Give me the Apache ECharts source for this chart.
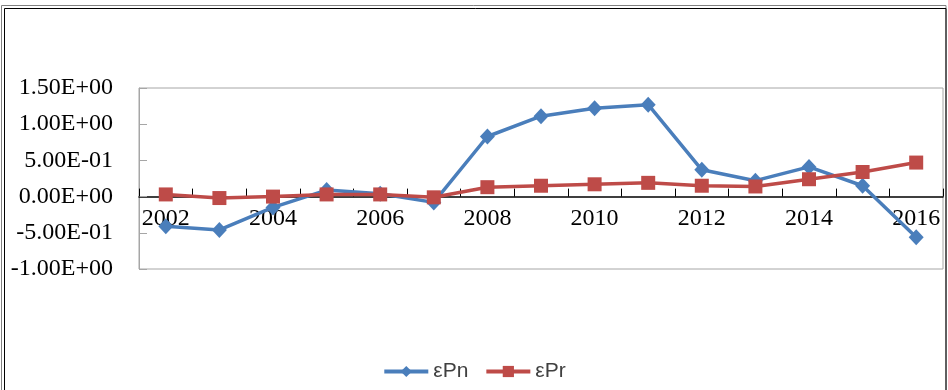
<!DOCTYPE html>
<html>
<head>
<meta charset="utf-8">
<script src="https://cdn.jsdelivr.net/npm/echarts@6/dist/echarts.min.js"></script>
<style>
html,body{margin:0;padding:0;background:#fff;}
#c{width:948px;height:390px;}
</style>
</head>
<body>
<div id="c"></div>
<script>
var years = ['2002','2003','2004','2005','2006','2007','2008','2009','2010','2011','2012','2013','2014','2015','2016'];
var ePn = [-0.41, -0.46, -0.15, 0.09, 0.04, -0.08, 0.83, 1.11, 1.22, 1.27, 0.37, 0.22, 0.41, 0.15, -0.56];
var ePr = [0.03, -0.02, 0.00, 0.03, 0.03, -0.01, 0.13, 0.15, 0.17, 0.19, 0.15, 0.14, 0.24, 0.34, 0.47];
var yMin = -1, yMax = 1.5, yStep = 0.5;

function sci(v) {
  if (Math.abs(v) < 1e-12) return '0.00E+00';
  var s = v.toExponential(2);
  var parts = s.split('e');
  var exp = parseInt(parts[1], 10);
  var sign = exp < 0 ? '-' : '+';
  var e = Math.abs(exp);
  return parts[0] + 'E' + sign + (e < 10 ? '0' + e : '' + e);
}

var W = 948, H = 390;
var gridTop = 88, gridBottom = 121;
var plotH = H - gridTop - gridBottom;
var zeroOffset = -plotH * (0 - yMin) / (yMax - yMin);

var chart = echarts.init(document.getElementById('c'));
chart.setOption({
  animation: false,
  backgroundColor: '#ffffff',
  graphic: [
    {type: 'rect', shape: {x: 1.5, y: 5.5, width: 944.5, height: 400}, style: {fill: 'none', stroke: '#808080', lineWidth: 1}, silent: true},
    {type: 'rect', shape: {x: 4.5, y: 8.5, width: 941.5, height: 400}, style: {fill: 'none', stroke: '#000000', lineWidth: 1}, silent: true}
  ],
  grid: {left: 139, right: 5, top: gridTop, bottom: gridBottom, show: true, borderColor: '#a6a6a6', borderWidth: 1, containLabel: false},
  legend: {
    top: 356, left: 'center',
    itemWidth: 44, itemHeight: 14, itemGap: 16,
    lineStyle: {width: 4},
    textStyle: {fontFamily: 'Liberation Sans', fontSize: 21, color: '#404040'},
    data: ['εPn', 'εPr']
  },
  xAxis: {
    type: 'category',
    data: years,
    boundaryGap: true,
    offset: zeroOffset,
    axisLine: {onZero: false, lineStyle: {color: '#000000', width: 1.5}},
    axisTick: {show: true, inside: true, length: 8, interval: 0, lineStyle: {color: '#000000'}},
    axisLabel: {interval: 1, margin: 10, fontFamily: 'Liberation Serif', fontSize: 24, color: '#000000'},
    splitLine: {show: false}
  },
  yAxis: {
    type: 'value',
    min: yMin, max: yMax, interval: yStep,
    axisLine: {show: true, lineStyle: {color: '#a6a6a6'}},
    axisTick: {show: true, inside: true, length: 8, lineStyle: {color: '#a6a6a6'}},
    axisLabel: {margin: 26, fontFamily: 'Liberation Serif', fontSize: 24, color: '#000000', formatter: sci},
    splitLine: {show: false}
  },
  series: [
    {
      name: 'εPn', type: 'line', data: ePn,
      symbol: 'diamond', symbolSize: [15, 16],
      lineStyle: {color: '#4a7ebb', width: 3.5},
      itemStyle: {color: '#4a7ebb'},
      z: 2
    },
    {
      name: 'εPr', type: 'line', data: ePr,
      symbol: 'rect', symbolSize: 14,
      lineStyle: {color: '#be4b48', width: 3.5},
      itemStyle: {color: '#be4b48'},
      z: 3
    }
  ]
});
</script>
</body>
</html>
